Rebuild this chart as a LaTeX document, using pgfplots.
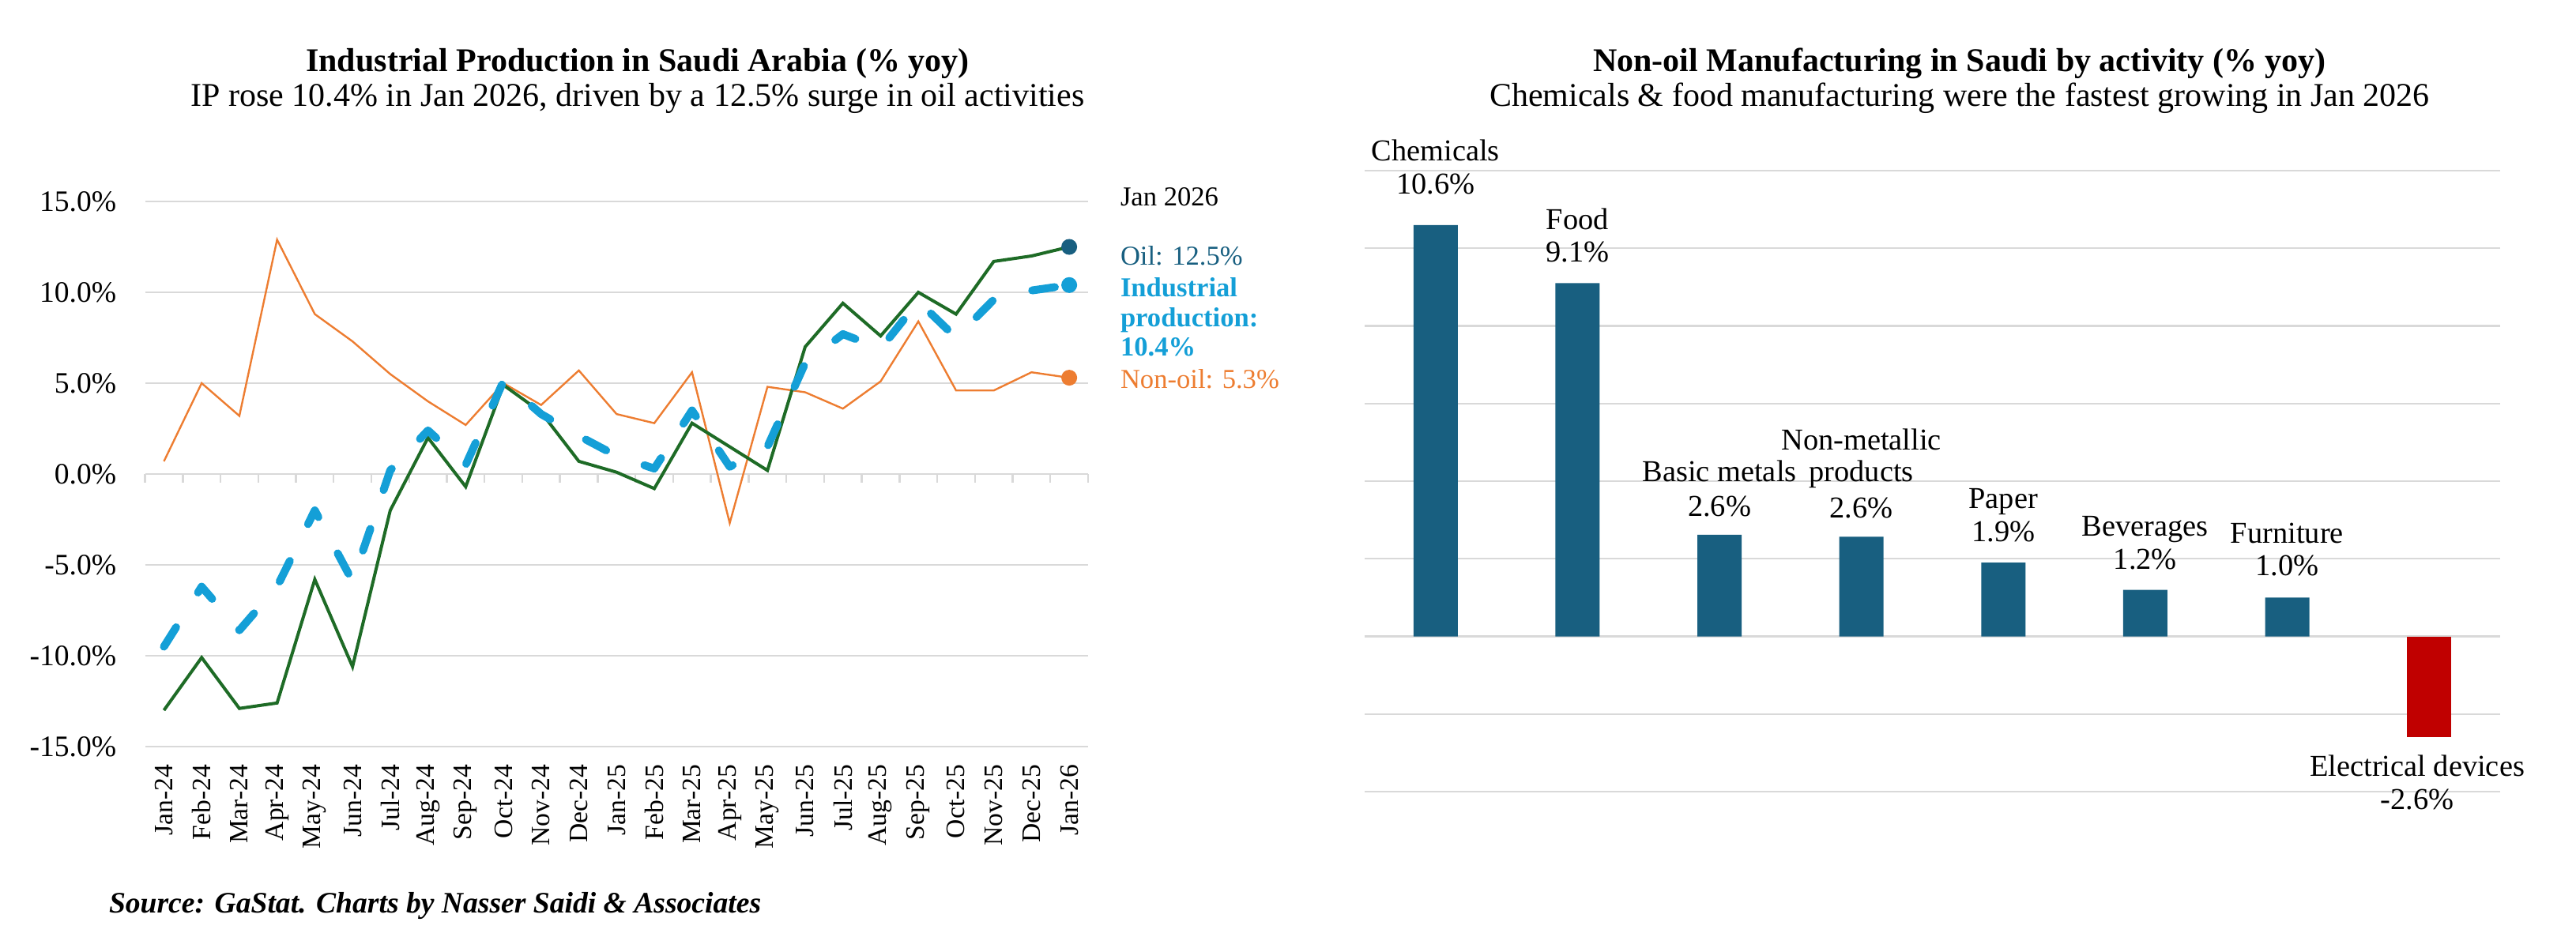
\documentclass[border=0pt]{standalone}
\usepackage{fontspec}
\setmainfont{Liberation Serif}
\usepackage{pgfplots}
\pgfplotsset{compat=1.18}
\definecolor{nonoil}{HTML}{ED7D31}
\definecolor{oilgreen}{HTML}{1E6B26}
\definecolor{ipblue}{HTML}{149FD7}
\definecolor{oildark}{HTML}{185F80}
\definecolor{barblue}{HTML}{185F80}
\definecolor{barred}{HTML}{C00000}
\definecolor{gridgray}{HTML}{D9D9D9}
\newcommand{\fs}[1]{\fontsize{#1}{#1}\selectfont}
\begin{document}
\begin{tikzpicture}[x=1pt,y=1pt]
\useasboundingbox (0,0) rectangle (815,301);
% ---------------- left chart ----------------
\begin{axis}[
  at={(45.9pt,64.75pt)}, anchor=south west, scale only axis,
  width=298.35pt, height=172.5pt,
  xmin=-0.5, xmax=24.5, ymin=-15, ymax=15,
  axis line style={draw=none}, tick style={draw=none},
  ymajorgrids, grid style={gridgray, line width=0.6pt},
  ytick={-15,-10,...,15},
  yticklabels={-15.0\%,-10.0\%,-5.0\%,0.0\%,5.0\%,10.0\%,15.0\%},
  yticklabel style={font=\fs{9.4}, inner sep=0pt, anchor=east},
  yticklabel shift=8.9pt,
  xtick={0,...,24},
  xticklabels={Jan-24,Feb-24,Mar-24,Apr-24,May-24,Jun-24,Jul-24,Aug-24,Sep-24,Oct-24,Nov-24,Dec-24,Jan-25,Feb-25,Mar-25,Apr-25,May-25,Jun-25,Jul-25,Aug-25,Sep-25,Oct-25,Nov-25,Dec-25,Jan-26},
  xticklabel style={font=\fs{8.4}, rotate=90, anchor=east, inner sep=0pt},
  xticklabel shift=5.5pt,
  clip=false,
]
\pgfplotsinvokeforeach{0,...,25}{\draw[gridgray, line width=0.6pt] (axis cs:#1-0.5,0) -- ([yshift=-2.7pt]axis cs:#1-0.5,0);}
\addplot[nonoil, line width=0.6pt, mark=none] coordinates {
(0,0.7) (1,5.0) (2,3.2) (3,12.9) (4,8.8) (5,7.3) (6,5.5) (7,4.0) (8,2.7) (9,5.0) (10,3.8) (11,5.7)
(12,3.3) (13,2.8) (14,5.6) (15,-2.7) (16,4.8) (17,4.5) (18,3.6) (19,5.1) (20,8.4) (21,4.6) (22,4.6) (23,5.6) (24,5.3)};
\addplot[oilgreen, line width=1.0pt, mark=none] coordinates {
(0,-13.0) (1,-10.1) (2,-12.9) (3,-12.6) (4,-5.8) (5,-10.6) (6,-2.0) (7,2.0) (8,-0.7) (9,4.9) (10,3.4) (11,0.7)
(12,0.1) (13,-0.8) (14,2.8) (15,1.5) (16,0.2) (17,7.0) (18,9.4) (19,7.6) (20,10.0) (21,8.8) (22,11.7) (23,12.0) (24,12.5)};
\addplot[ipblue, line width=2.5pt, line cap=round, line join=round, dash pattern=on 7.25pt off 13pt, mark=none] coordinates {
(0,-9.5) (1,-6.2) (2,-8.6) (3,-6.2) (4,-2.0) (5,-5.9) (6,0.2) (7,2.4) (8,0.5) (9,5.1) (10,3.3) (11,2.1)
(12,1.0) (13,0.3) (14,3.5) (15,0.4) (16,1.5) (17,6.1) (18,7.7) (19,6.9) (20,9.5) (21,7.5) (22,9.6) (23,10.1) (24,10.4)};
\addplot[only marks, mark=*, mark size=2.3pt, mark options={draw=oildark, fill=oildark}] coordinates {(24,12.5)};
\addplot[only marks, mark=*, mark size=2.3pt, mark options={draw=ipblue, fill=ipblue}] coordinates {(24,10.4)};
\addplot[only marks, mark=*, mark size=2.3pt, mark options={draw=nonoil, fill=nonoil}] coordinates {(24,5.3)};
\end{axis}
% ---------------- right chart ----------------
\begin{axis}[
  at={(431.75pt,50.5pt)}, anchor=south west, scale only axis,
  width=359.25pt, height=196.5pt,
  xmin=-0.5, xmax=7.5, ymin=-4, ymax=12,
  axis line style={draw=none}, tick style={draw=none},
  ymajorgrids, grid style={gridgray, line width=0.6pt},
  ytick={-4,-2,...,12}, yticklabels={},
  xtick=\empty,
  clip=false,
]
\addplot[ybar, bar width=14pt, bar shift=0pt, fill=barblue, draw=none] coordinates {
(0,10.6) (1,9.1) (2,2.62) (3,2.57) (4,1.9) (5,1.2) (6,1.0)};
\addplot[ybar, bar width=14pt, bar shift=0pt, fill=barred, draw=none] coordinates {(7,-2.6)};
\end{axis}
% ---------------- annotations ----------------
\begin{scope}[every node/.style={inner sep=0pt, anchor=base west, font=\fs{8.65}}]
\node at (354.3,236) {Jan 2026};
\node[text=oildark] at (354.3,217.25) {Oil: 12.5\%};
\node[text=ipblue, font=\fs{8.65}\bfseries] at (354.3,207.25) {Industrial};
\node[text=ipblue, font=\fs{8.65}\bfseries] at (354.3,197.67) {production:};
\node[text=ipblue, font=\fs{8.65}\bfseries] at (354.3,188.5) {10.4\%};
\node[text=nonoil] at (354.3,178.1) {Non-oil: 5.3\%};
\end{scope}
% titles
\begin{scope}[every node/.style={inner sep=0pt, anchor=base}]
\node[font=\fs{10.5}\bfseries] at (201.75,278.3) {Industrial Production in Saudi Arabia (\% yoy)};
\node[font=\fs{10.5}] at (201.75,267.5) {IP rose 10.4\% in Jan 2026, driven by a 12.5\% surge in oil activities};
\node[font=\fs{10.5}\bfseries] at (620,278.3) {Non-oil Manufacturing in Saudi by activity (\% yoy)};
\node[font=\fs{10.5}] at (620,267.5) {Chemicals \& food manufacturing were the fastest growing in Jan 2026};
\end{scope}
% bar labels
\begin{scope}[every node/.style={inner sep=0pt, anchor=base, font=\fs{9.6}}]
\node at (454.2,250.25) {Chemicals}; \node at (454.2,239.75) {10.6\%};
\node at (499.1,228.5) {Food}; \node at (499.1,218.25) {9.1\%};
\node at (544.0,148.75) {Basic metals}; \node at (544.0,137.75) {2.6\%};
\node at (588.9,158.75) {Non-metallic}; \node at (588.9,148.75) {products}; \node at (588.9,137.25) {2.6\%};
\node at (633.8,140.25) {Paper}; \node at (633.8,129.75) {1.9\%};
\node at (678.7,131.5) {Beverages}; \node at (678.7,121) {1.2\%};
\node at (723.6,129.25) {Furniture}; \node at (723.6,119) {1.0\%};
\node at (764.75,55.5) {Electrical devices}; \node at (764.75,45) {-2.6\%};
\end{scope}
% source
\node[inner sep=0pt, anchor=base west, font=\fs{9.4}\bfseries\itshape] at (34.3,12.25) {Source: GaStat. Charts by Nasser Saidi \& Associates};
\end{tikzpicture}
\end{document}
